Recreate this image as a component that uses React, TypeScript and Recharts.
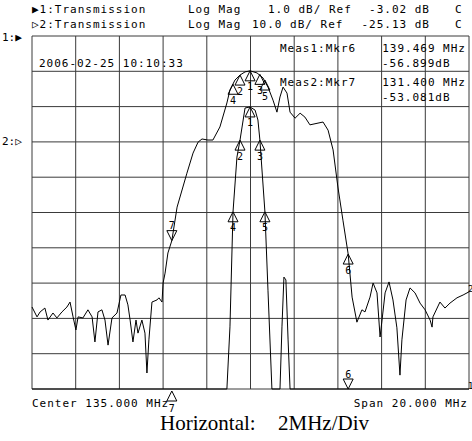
import { CartesianGrid, ComposedChart, Line, Scatter, XAxis, YAxis } from "recharts";

const MONO = "'DejaVu Sans Mono', monospace";
const SERIF = "'Liberation Serif', 'Times New Roman', serif";
const INK = "#000";
const GRID = "#3a3a3a";

// 125..145 MHz, 2 MHz/div
const FREQ_TICKS = [125, 127, 129, 131, 133, 135, 137, 139, 141, 143, 145];
// trace 1: 1 dB/div, ref -3.02 dB at top line
const T1_TICKS = [-13.02, -12.02, -11.02, -10.02, -9.02, -8.02, -7.02, -6.02, -5.02, -4.02, -3.02];
// trace 2: 10 dB/div, ref -25.13 dB on the 7th line from bottom
const T2_TICKS = [-95.13, -85.13, -75.13, -65.13, -55.13, -45.13, -35.13, -25.13, -15.13, -5.13, 4.87];

// trace 1 (passband zoom, clipped at the bottom edge)
const T1_MHZ = [
  125.0, 133.92, 134.06, 134.2, 134.38, 134.52, 134.75, 134.98, 135.21, 135.34, 135.43, 135.66,
  135.8, 135.98, 136.35, 136.44, 136.53, 136.62, 136.72, 136.81, 145.0,
];
const T1_DB = [
  -13.02, -13.02, -11.26, -8.0, -6.45, -5.97, -5.06, -5.03, -5.12, -5.4, -5.97, -8.0,
  -10.22, -13.02, -13.02, -11.26, -9.85, -9.93, -11.63, -13.02, -13.02,
];

// trace 2 (full response)
const T2_MHZ = [
  125.0, 125.23, 125.37, 125.59, 125.73, 125.96, 126.14, 126.37, 126.6, 126.74, 126.88, 127.01,
  127.11, 127.33, 127.56, 127.75, 127.88, 128.02, 128.2, 128.34, 128.48, 128.66, 128.89, 129.07,
  129.26, 129.39, 129.49, 129.62, 129.76, 129.85, 130.03, 130.17, 130.26, 130.35, 130.49, 130.72,
  130.81, 130.95, 131.0, 131.09, 131.22, 131.4, 131.64, 132.09, 132.37, 132.6, 132.78, 133.05,
  133.28, 133.6, 133.92, 134.06, 134.29, 134.52, 134.75, 134.98, 135.3, 135.57, 135.8, 136.03,
  136.21, 136.35, 136.49, 136.67, 136.81, 137.04, 137.27, 137.49, 137.72, 138.32, 138.55, 138.78,
  139.0, 139.23, 139.47, 139.65, 139.87, 140.1, 140.24, 140.47, 140.61, 140.79, 140.93, 141.02,
  141.16, 141.34, 141.52, 141.7, 141.84, 141.93, 142.12, 142.3, 142.53, 142.76, 142.99, 143.22,
  143.31, 143.35, 143.67, 143.9, 144.13, 144.45, 144.73, 145.0,
];
const T2_DB = [
  -71.9, -74.7, -73.3, -72.2, -75.6, -73.6, -75.0, -73.3, -71.9, -70.5, -74.7, -78.4,
  -74.7, -75.0, -72.7, -74.7, -81.8, -73.3, -72.7, -75.6, -82.7, -75.0, -73.6, -68.5,
  -68.5, -71.3, -75.6, -81.8, -75.6, -79.3, -75.6, -79.3, -90.6, -81.2, -70.5, -69.9,
  -69.3, -70.5, -65.1, -62.3, -56.6, -53.1, -43.6, -34.0, -28.3, -25.2, -24.3, -24.6,
  -24.6, -20.9, -14.1, -10.4, -7.6, -6.2, -5.3, -5.0, -5.6, -7.0, -9.6, -13.3,
  -16.7, -12.4, -9.6, -11.3, -16.7, -18.4, -17.0, -18.1, -20.3, -19.5, -21.8, -27.4,
  -37.9, -47.3, -56.9, -69.1, -76.2, -72.7, -73.3, -69.1, -65.1, -67.9, -80.4, -75.6,
  -67.9, -64.8, -69.9, -77.8, -91.2, -81.2, -69.9, -66.5, -67.9, -70.8, -72.7, -75.6,
  -77.6, -74.7, -70.5, -72.2, -70.8, -69.3, -68.5, -67.6,
];

// markers: "up" = triangle under the point, "down" = triangle over it, "below" = off-scale, under the axis
const MARKER_IDS = ["1", "2", "3", "4", "5", "6", "7"];
const T1_MARKER_MHZ = [134.98, 134.52, 135.43, 134.2, 135.66, 139.47, 131.4];
const T1_MARKER_DB = [-5.03, -5.97, -5.97, -8.0, -8.0, -13.02, -13.02];
const T1_MARKER_DIR = ["up", "up", "up", "up", "up", "down", "below"];
const T2_MARKER_MHZ = [134.98, 134.52, 135.43, 134.2, 135.66, 139.47, 131.4];
const T2_MARKER_DB = [-5.0, -6.2, -6.0, -8.8, -7.6, -56.9, -53.1];
const T2_MARKER_DIR = ["up", "up", "up", "up", "up", "up", "down"];

const zip = (fs: number[], dbs: number[]) => fs.map((f, i) => ({ f, db: dbs[i] }));
const markers = (fs: number[], dbs: number[], dirs: string[]) =>
  fs.map((f, i) => ({ f, db: dbs[i], id: MARKER_IDS[i], dir: dirs[i] }));

const trace1 = zip(T1_MHZ, T1_DB);
const trace2 = zip(T2_MHZ, T2_DB);
const marks1 = markers(T1_MARKER_MHZ, T1_MARKER_DB, T1_MARKER_DIR);
const marks2 = markers(T2_MARKER_MHZ, T2_MARKER_DB, T2_MARKER_DIR);

function MarkerShape(props: any) {
  const { cx, cy, payload } = props;
  if (cx == null || cy == null) return null;
  const w = 5;
  const h = 10;
  let path: string;
  let ly: number;
  if (payload.dir === "down") {
    path = `M${cx},${cy} L${cx - w},${cy - h} L${cx + w},${cy - h} Z`;
    ly = cy - h - 5;
  } else if (payload.dir === "below") {
    path = `M${cx},${cy + 2} L${cx - w},${cy + 2 + h} L${cx + w},${cy + 2 + h} Z`;
    ly = cy + h + 9;
  } else {
    path = `M${cx},${cy} L${cx - w},${cy + h} L${cx + w},${cy + h} Z`;
    ly = cy + h + 6;
  }
  return (
    <g>
      <path d={path} fill="none" stroke={INK} strokeWidth={1} />
      <text x={cx} y={ly} textAnchor="middle" dominantBaseline="central" fontFamily={MONO} fontSize={10} fill={INK}>
        {payload.id}
      </text>
    </g>
  );
}

const txt = { fontFamily: MONO, fontSize: 11, letterSpacing: 1, fill: INK, dominantBaseline: "central" as const };

function Annotations() {
  return (
    <svg width={472} height={441} style={{ position: "absolute", left: 0, top: 0, pointerEvents: "none" }}>
      <text x={32} y={9} {...txt}>▶1:Transmission</text>
      <text x={188} y={9} {...txt}>Log Mag</text>
      <text x={268} y={9} {...txt}>1.0 dB/ Ref</text>
      <text x={430} y={9} textAnchor="end" {...txt}>-3.02 dB</text>
      <text x={455} y={9} {...txt}>C</text>
      <text x={32} y={24} {...txt}>▷2:Transmission</text>
      <text x={188} y={24} {...txt}>Log Mag</text>
      <text x={252} y={24} {...txt}>10.0 dB/ Ref</text>
      <text x={430} y={24} textAnchor="end" {...txt}>-25.13 dB</text>
      <text x={455} y={24} {...txt}>C</text>

      <text x={2} y={37} {...txt} letterSpacing={0}>1:▶</text>
      <text x={2} y={141} {...txt} letterSpacing={0}>2:▷</text>

      <text x={39} y={63} {...txt}>2006-02-25 10:10:33</text>
      <text x={280} y={48} {...txt}>Meas1:Mkr6</text>
      <text x={466} y={48} textAnchor="end" {...txt}>139.469 MHz</text>
      <text x={382} y={63} {...txt}>-56.899dB</text>
      <text x={280} y={82} {...txt}>Meas2:Mkr7</text>
      <text x={466} y={82} textAnchor="end" {...txt}>131.400 MHz</text>
      <text x={382} y={97} {...txt}>-53.081dB</text>

      <text x={468} y={289} {...txt} fontSize={9} letterSpacing={0}>2</text>
      <text x={468} y={386} {...txt} fontSize={9} letterSpacing={0}>1</text>

      <text x={32} y={403} {...txt}>Center 135.000 MHz</text>
      <text x={468} y={403} textAnchor="end" {...txt}>Span 20.000 MHz</text>

      <text x={160} y={430} fontFamily={SERIF} fontSize={21} fill={INK}>Horizontal:</text>
      <text x={278} y={430} fontFamily={SERIF} fontSize={21} fill={INK}>2MHz/Div</text>
    </svg>
  );
}

export default function App() {
  return (
    <div style={{ position: "absolute", left: 0, top: 0, width: 472, height: 441, background: "#fff" }}>
      <ComposedChart width={472} height={441} margin={{ top: 36, right: 3, bottom: 52, left: 32 }}>
        <XAxis dataKey="f" type="number" domain={[125, 145]} ticks={FREQ_TICKS} hide />
        <YAxis yAxisId="t1" dataKey="db" type="number" domain={[-13.02, -3.02]} ticks={T1_TICKS} hide />
        <YAxis yAxisId="t2" dataKey="db" type="number" domain={[-95.13, 4.87]} ticks={T2_TICKS} hide />
        <CartesianGrid yAxisId="t2" stroke={GRID} strokeWidth={1} />
        <Line
          yAxisId="t2"
          data={trace2}
          dataKey="db"
          type="linear"
          stroke={INK}
          strokeWidth={1}
          dot={false}
          isAnimationActive={false}
        />
        <Line
          yAxisId="t1"
          data={trace1}
          dataKey="db"
          type="linear"
          stroke={INK}
          strokeWidth={1}
          dot={false}
          isAnimationActive={false}
        />
        <Scatter yAxisId="t1" data={marks1} dataKey="db" shape={MarkerShape} isAnimationActive={false} />
        <Scatter yAxisId="t2" data={marks2} dataKey="db" shape={MarkerShape} isAnimationActive={false} />
      </ComposedChart>
      <Annotations />
    </div>
  );
}
